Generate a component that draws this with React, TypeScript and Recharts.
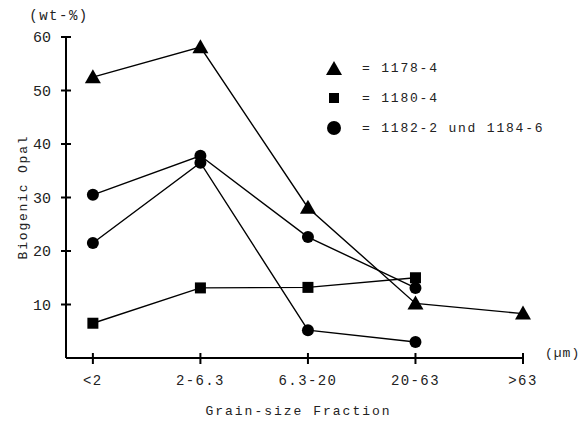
import React from 'react';
import { LineChart, Line, XAxis, YAxis, Legend, Label } from 'recharts';

const categories = ['<2', '2-6.3', '6.3-20', '20-63', '>63'];
const site1178 = [52.5, 58.1, 28.1, 10.2, 8.3];
const site1180 = [6.5, 13.1, 13.2, 15.0, null];
const site1182 = [30.5, 37.8, 22.6, 13.1, null];
const site1184 = [21.5, 36.5, 5.2, 3.0, null];
const yTicks = [10, 20, 30, 40, 50, 60];

const FONT = '"Liberation Mono", "DejaVu Sans Mono", monospace';

const rows = categories.map((c, i) => ({
  x: i,
  name: c,
  s1178: site1178[i],
  s1180: site1180[i],
  s1182: site1182[i],
  s1184: site1184[i],
}));

const Triangle = (props) => {
  const { cx, cy, index } = props;
  if (cx == null || cy == null) return <g key={index} />;
  return (
    <polygon
      key={index}
      points={`${cx},${cy - 8} ${cx - 8},${cy + 6} ${cx + 8},${cy + 6}`}
      fill="#000"
    />
  );
};

const Square = (props) => {
  const { cx, cy, index } = props;
  if (cx == null || cy == null) return <g key={index} />;
  return <rect key={index} x={cx - 5.5} y={cy - 5.5} width={11} height={11} fill="#000" />;
};

const Circle = (props) => {
  const { cx, cy, index } = props;
  if (cx == null || cy == null) return <g key={index} />;
  return <circle key={index} cx={cx} cy={cy} r={6} fill="#000" />;
};

const YTick = ({ x, y, payload }) => (
  <g>
    <line x1={x - 5} x2={x + 5} y1={y} y2={y} stroke="#000" strokeWidth={2} />
    <text x={x - 15} y={y} dy={5} textAnchor="end" fontFamily={FONT} fontSize={15} fill="#222">
      {payload.value}
    </text>
  </g>
);

const XTick = ({ x, y, payload }) => (
  <g>
    <line x1={x} x2={x} y1={y - 5} y2={y + 6} stroke="#000" strokeWidth={2} />
    <text x={x} y={y + 27} textAnchor="middle" fontFamily={FONT} fontSize={14} letterSpacing={1.4} fill="#222">
      {categories[payload.value]}
    </text>
  </g>
);

const legendItems = [
  { shape: 'tri', text: '= 1178-4' },
  { shape: 'sq', text: '= 1180-4' },
  { shape: 'circ', text: '= 1182-2 und 1184-6' },
];

const LegendBox = () => (
  <div style={{ fontFamily: FONT, fontSize: 13, letterSpacing: 1.8, color: '#222' }}>
    {legendItems.map((it) => (
      <div key={it.text} style={{ display: 'flex', alignItems: 'center', height: 30 }}>
        <svg width={20} height={18} style={{ marginRight: 18 }}>
          {it.shape === 'tri' && <polygon points="10,2 2,16 18,16" fill="#000" />}
          {it.shape === 'sq' && <rect x={5} y={4} width={10} height={10} fill="#000" />}
          {it.shape === 'circ' && <circle cx={10} cy={9} r={7} fill="#000" />}
        </svg>
        <span>{it.text}</span>
      </div>
    ))}
  </div>
);

export default function App() {
  return (
    <div style={{ position: 'absolute', left: 0, top: 0, background: '#fff' }}>
      <LineChart width={583} height={423} data={rows} margin={{ top: 37, right: 60, bottom: 35, left: 26 }}>
        <XAxis
          dataKey="x"
          type="number"
          domain={[-0.25, 4]}
          ticks={[0, 1, 2, 3, 4]}
          height={30}
          tickSize={0}
          tickMargin={0}
          tickLine={false}
          tick={<XTick />}
          axisLine={{ stroke: '#000', strokeWidth: 2 }}
        >
          <Label
            content={({ viewBox }) => (
              <g>
                <text x={viewBox.x + viewBox.width / 2 + 4} y={viewBox.y + 57} textAnchor="middle" fontFamily={FONT} fontSize={13} letterSpacing={2} fill="#222">
                  Grain-size Fraction
                </text>
                <text x={viewBox.x + viewBox.width + 22} y={viewBox.y - 1} fontFamily={FONT} fontSize={13} letterSpacing={1} fill="#222">
                  (µm)
                </text>
              </g>
            )}
          />
        </XAxis>
        <YAxis
          type="number"
          domain={[0, 60]}
          ticks={yTicks}
          width={40}
          tickSize={0}
          tickMargin={0}
          tickLine={false}
          tick={<YTick />}
          axisLine={{ stroke: '#000', strokeWidth: 2 }}
        >
          <Label
            content={({ viewBox }) => (
              <g>
                <text
                  transform={`translate(${viewBox.x + 1}, ${viewBox.y + 160}) rotate(-90)`}
                  textAnchor="middle"
                  fontFamily={FONT}
                  fontSize={13}
                  letterSpacing={1.8}
                  fill="#222"
                >
                  Biogenic Opal
                </text>
                <text x={viewBox.x + 33} y={viewBox.y - 17} textAnchor="middle" fontFamily={FONT} fontSize={14} letterSpacing={1.5} fill="#222">
                  (wt-%)
                </text>
              </g>
            )}
          />
        </YAxis>
        <Legend
          layout="horizontal"
          align="center"
          verticalAlign="middle"
          content={<LegendBox />}
          wrapperStyle={{ position: 'absolute', left: 324, top: 53, width: 260 }}
        />
        <Line dataKey="s1178" name="1178-4" stroke="#000" strokeWidth={1.4} dot={Triangle} isAnimationActive={false} />
        <Line dataKey="s1180" name="1180-4" stroke="#000" strokeWidth={1.4} dot={Square} isAnimationActive={false} />
        <Line dataKey="s1182" name="1182-2" stroke="#000" strokeWidth={1.4} dot={Circle} isAnimationActive={false} />
        <Line dataKey="s1184" name="1184-6" stroke="#000" strokeWidth={1.4} dot={Circle} isAnimationActive={false} />
      </LineChart>
    </div>
  );
}
